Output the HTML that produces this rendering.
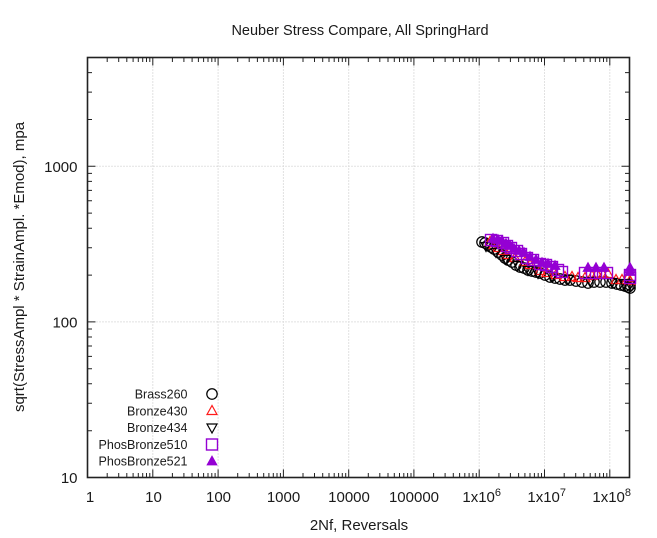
<!DOCTYPE html>
<html>
<head>
<meta charset="utf-8">
<style>
html,body{margin:0;padding:0;background:#fff;}
svg{display:block;}
text{font-family:"Liberation Sans",sans-serif;fill:#1a1a1a;}
</style>
</head>
<body>
<svg width="657" height="538" viewBox="0 0 657 538" xmlns="http://www.w3.org/2000/svg">
<defs>
  <circle id="c" cx="0" cy="0" r="5.2" fill="none" stroke="#000" stroke-width="1.25"/>
  <polygon id="tr" points="0,-5.5 -5,3.5 5,3.5" fill="none" stroke="#ff1a1a" stroke-width="1.2"/>
  <polygon id="td" points="0,5.5 -5,-3.5 5,-3.5" fill="none" stroke="#000" stroke-width="1.2"/>
  <rect id="sq" x="-5.5" y="-5.5" width="11" height="11" fill="none" stroke="#9400d3" stroke-width="1.4"/>
  <polygon id="tf" points="0,-5.5 -5,3.5 5,3.5" fill="#9400d3" stroke="#9400d3" stroke-width="0.8"/>
</defs>
<rect width="657" height="538" fill="#fff"/>

<!-- grid -->
<g stroke="#c4c4c4" stroke-width="1" stroke-dasharray="1,2" fill="none">
  <path d="M152.8,57.5V477.5M218.1,57.5V477.5M283.4,57.5V477.5M348.7,57.5V477.5M413.9,57.5V477.5M479.2,57.5V477.5M544.5,57.5V477.5M609.8,57.5V477.5"/>
  <path d="M87.5,321.9H629.5M87.5,166.3H629.5"/>
</g>

<!-- ticks -->
<g stroke="#222" stroke-width="1" fill="none">
  <path d="M152.8,477.5v-8M218.1,477.5v-8M283.4,477.5v-8M348.7,477.5v-8M413.9,477.5v-8M479.2,477.5v-8M544.5,477.5v-8M609.8,477.5v-8"/>
  <path d="M152.8,57.5v8M218.1,57.5v8M283.4,57.5v8M348.7,57.5v8M413.9,57.5v8M479.2,57.5v8M544.5,57.5v8M609.8,57.5v8"/>
  <path d="M107.2,477.5v-4.5M118.7,477.5v-4.5M126.8,477.5v-4.5M133.1,477.5v-4.5M138.3,477.5v-4.5M142.7,477.5v-4.5M146.5,477.5v-4.5M149.8,477.5v-4.5
  M172.4,477.5v-4.5M183.9,477.5v-4.5M192.1,477.5v-4.5M198.4,477.5v-4.5M203.6,477.5v-4.5M208.0,477.5v-4.5M211.8,477.5v-4.5M215.1,477.5v-4.5
  M237.7,477.5v-4.5M249.2,477.5v-4.5M257.4,477.5v-4.5M263.7,477.5v-4.5M268.9,477.5v-4.5M273.3,477.5v-4.5M277.0,477.5v-4.5M280.4,477.5v-4.5
  M303.0,477.5v-4.5M314.5,477.5v-4.5M322.7,477.5v-4.5M329.0,477.5v-4.5M334.2,477.5v-4.5M338.6,477.5v-4.5M342.3,477.5v-4.5M345.7,477.5v-4.5
  M368.3,477.5v-4.5M379.8,477.5v-4.5M388.0,477.5v-4.5M394.3,477.5v-4.5M399.5,477.5v-4.5M403.8,477.5v-4.5M407.6,477.5v-4.5M411.0,477.5v-4.5
  M433.6,477.5v-4.5M445.1,477.5v-4.5M453.3,477.5v-4.5M459.6,477.5v-4.5M464.8,477.5v-4.5M469.1,477.5v-4.5M472.9,477.5v-4.5M476.3,477.5v-4.5
  M498.9,477.5v-4.5M510.4,477.5v-4.5M518.6,477.5v-4.5M524.9,477.5v-4.5M530.0,477.5v-4.5M534.4,477.5v-4.5M538.2,477.5v-4.5M541.5,477.5v-4.5
  M564.2,477.5v-4.5M575.7,477.5v-4.5M583.8,477.5v-4.5M590.2,477.5v-4.5M595.3,477.5v-4.5M599.7,477.5v-4.5M603.5,477.5v-4.5M606.8,477.5v-4.5"/>
  <path d="M107.2,57.5v4.5M118.7,57.5v4.5M126.8,57.5v4.5M133.1,57.5v4.5M138.3,57.5v4.5M142.7,57.5v4.5M146.5,57.5v4.5M149.8,57.5v4.5
  M172.4,57.5v4.5M183.9,57.5v4.5M192.1,57.5v4.5M198.4,57.5v4.5M203.6,57.5v4.5M208.0,57.5v4.5M211.8,57.5v4.5M215.1,57.5v4.5
  M237.7,57.5v4.5M249.2,57.5v4.5M257.4,57.5v4.5M263.7,57.5v4.5M268.9,57.5v4.5M273.3,57.5v4.5M277.0,57.5v4.5M280.4,57.5v4.5
  M303.0,57.5v4.5M314.5,57.5v4.5M322.7,57.5v4.5M329.0,57.5v4.5M334.2,57.5v4.5M338.6,57.5v4.5M342.3,57.5v4.5M345.7,57.5v4.5
  M368.3,57.5v4.5M379.8,57.5v4.5M388.0,57.5v4.5M394.3,57.5v4.5M399.5,57.5v4.5M403.8,57.5v4.5M407.6,57.5v4.5M411.0,57.5v4.5
  M433.6,57.5v4.5M445.1,57.5v4.5M453.3,57.5v4.5M459.6,57.5v4.5M464.8,57.5v4.5M469.1,57.5v4.5M472.9,57.5v4.5M476.3,57.5v4.5
  M498.9,57.5v4.5M510.4,57.5v4.5M518.6,57.5v4.5M524.9,57.5v4.5M530.0,57.5v4.5M534.4,57.5v4.5M538.2,57.5v4.5M541.5,57.5v4.5
  M564.2,57.5v4.5M575.7,57.5v4.5M583.8,57.5v4.5M590.2,57.5v4.5M595.3,57.5v4.5M599.7,57.5v4.5M603.5,57.5v4.5M606.8,57.5v4.5"/>
  <path d="M87.5,321.9h8M87.5,166.3h8M629.5,321.9h-8M629.5,166.3h-8"/>
  <path d="M87.5,430.7h4.5M87.5,403.3h4.5M87.5,383.8h4.5M87.5,368.7h4.5M87.5,356.4h4.5M87.5,346.0h4.5M87.5,337.0h4.5M87.5,329.0h4.5
  M87.5,275.1h4.5M87.5,247.7h4.5M87.5,228.2h4.5M87.5,213.1h4.5M87.5,200.8h4.5M87.5,190.4h4.5M87.5,181.4h4.5M87.5,173.4h4.5
  M87.5,119.5h4.5M87.5,92.1h4.5M87.5,72.6h4.5"/>
  <path d="M629.5,430.7h-4.5M629.5,403.3h-4.5M629.5,383.8h-4.5M629.5,368.7h-4.5M629.5,356.4h-4.5M629.5,346.0h-4.5M629.5,337.0h-4.5M629.5,329.0h-4.5
  M629.5,275.1h-4.5M629.5,247.7h-4.5M629.5,228.2h-4.5M629.5,213.1h-4.5M629.5,200.8h-4.5M629.5,190.4h-4.5M629.5,181.4h-4.5M629.5,173.4h-4.5
  M629.5,119.5h-4.5M629.5,92.1h-4.5M629.5,72.6h-4.5"/>
</g>

<!-- border -->
<rect x="87.5" y="57.5" width="542" height="420" fill="none" stroke="#222" stroke-width="1.6"/>

<!-- tick labels -->
<g font-size="15" text-anchor="middle">
  <text x="90" y="502">1</text>
  <text x="153.5" y="502">10</text>
  <text x="218.5" y="502">100</text>
  <text x="283.5" y="502">1000</text>
  <text x="349" y="502">10000</text>
  <text x="414" y="502">100000</text>
  <text x="481.7" y="502">1x10<tspan font-size="11" dy="-6">6</tspan></text>
  <text x="546.7" y="502">1x10<tspan font-size="11" dy="-6">7</tspan></text>
  <text x="611.7" y="502">1x10<tspan font-size="11" dy="-6">8</tspan></text>
</g>
<g font-size="15" text-anchor="end">
  <text x="77.5" y="483">10</text>
  <text x="77.5" y="327.4">100</text>
  <text x="77.5" y="171.8">1000</text>
</g>

<!-- titles -->
<text x="360" y="35" font-size="14.5" text-anchor="middle">Neuber Stress Compare, All SpringHard</text>
<text x="359" y="530" font-size="15" text-anchor="middle">2Nf, Reversals</text>
<text transform="translate(24,267) rotate(-90)" font-size="15" text-anchor="middle">sqrt(StressAmpl * StrainAmpl. *Emod), mpa</text>

<!-- legend -->
<g font-size="12.5" text-anchor="end">
  <text x="187.5" y="398.5">Brass260</text>
  <text x="187.5" y="415.3">Bronze430</text>
  <text x="187.5" y="432.1">Bronze434</text>
  <text x="187.5" y="448.9">PhosBronze510</text>
  <text x="187.5" y="465.7">PhosBronze521</text>
</g>
<use href="#c" x="212" y="394"/>
<use href="#tr" x="212" y="411"/>
<use href="#td" x="212" y="427.5"/>
<use href="#sq" x="212" y="444.5"/>
<use href="#tf" x="212" y="461.5"/>

<!-- Brass260 circles -->
<g>
  <use href="#c" x="482" y="242"/><use href="#c" x="485" y="243"/><use href="#c" x="488" y="245"/>
  <use href="#c" x="491" y="247"/><use href="#c" x="494" y="249"/><use href="#c" x="498" y="252"/>
  <use href="#c" x="502" y="255"/><use href="#c" x="505" y="258"/><use href="#c" x="508" y="260"/>
  <use href="#c" x="512" y="262"/><use href="#c" x="516" y="265"/><use href="#c" x="520" y="267"/>
  <use href="#c" x="524" y="268"/><use href="#c" x="528" y="270"/><use href="#c" x="532" y="271"/>
  <use href="#c" x="536" y="272"/><use href="#c" x="540" y="273"/><use href="#c" x="545" y="275"/>
  <use href="#c" x="550" y="277"/><use href="#c" x="555" y="278"/><use href="#c" x="560" y="279"/>
  <use href="#c" x="565" y="280"/><use href="#c" x="570" y="280"/><use href="#c" x="576" y="281"/>
  <use href="#c" x="582" y="282"/><use href="#c" x="588" y="283"/><use href="#c" x="594" y="282"/>
  <use href="#c" x="600" y="282"/><use href="#c" x="606" y="282"/><use href="#c" x="612" y="283"/>
  <use href="#c" x="617" y="284"/><use href="#c" x="621" y="285"/><use href="#c" x="625" y="286"/>
  <use href="#c" x="628" y="287"/><use href="#c" x="630" y="285"/><use href="#c" x="630" y="288"/>
</g>
<!-- Bronze430 red triangles -->
<g>
  <use href="#tr" x="490" y="242"/><use href="#tr" x="494" y="245"/><use href="#tr" x="498" y="248"/>
  <use href="#tr" x="503" y="251"/><use href="#tr" x="507" y="255"/><use href="#tr" x="515" y="258"/>
  <use href="#tr" x="525" y="262"/><use href="#tr" x="530" y="265"/><use href="#tr" x="540" y="271"/>
  <use href="#tr" x="547" y="273"/><use href="#tr" x="556" y="275"/><use href="#tr" x="565" y="277"/>
  <use href="#tr" x="572" y="277"/><use href="#tr" x="578" y="278"/><use href="#tr" x="585" y="278"/>
  <use href="#tr" x="592" y="276"/><use href="#tr" x="597" y="274"/><use href="#tr" x="603" y="275"/>
  <use href="#tr" x="608" y="274"/><use href="#tr" x="616" y="280"/><use href="#tr" x="622" y="280"/>
  <use href="#tr" x="628" y="278"/><use href="#tr" x="630" y="281"/>
</g>
<!-- Bronze434 down triangles -->
<g>
  <use href="#td" x="486" y="246"/><use href="#td" x="496" y="252"/><use href="#td" x="506" y="259"/>
  <use href="#td" x="518" y="265"/><use href="#td" x="528" y="270"/><use href="#td" x="538" y="273"/>
  <use href="#td" x="552" y="276"/><use href="#td" x="568" y="279"/><use href="#td" x="590" y="281"/>
  <use href="#td" x="612" y="282"/><use href="#td" x="624" y="283"/><use href="#td" x="630" y="284"/>
</g>
<!-- PhosBronze510 squares -->
<g>
  <use href="#sq" x="491" y="240"/><use href="#sq" x="497" y="241"/><use href="#sq" x="503" y="243"/>
  <use href="#sq" x="507" y="246"/><use href="#sq" x="511" y="248"/><use href="#sq" x="517" y="251"/>
  <use href="#sq" x="521" y="254"/><use href="#sq" x="527" y="258"/><use href="#sq" x="533" y="260"/>
  <use href="#sq" x="540" y="264"/><use href="#sq" x="546" y="265"/><use href="#sq" x="552" y="267"/>
  <use href="#sq" x="558" y="270"/><use href="#sq" x="562" y="272"/><use href="#sq" x="585" y="273"/>
  <use href="#sq" x="592" y="273"/><use href="#sq" x="600" y="273"/><use href="#sq" x="607" y="273"/>
  <use href="#sq" x="630" y="275"/><use href="#sq" x="630" y="278"/>
</g>
<!-- PhosBronze521 filled triangles -->
<g>
  <use href="#tf" x="493" y="239"/><use href="#tf" x="498" y="240"/><use href="#tf" x="502" y="241"/>
  <use href="#tf" x="506" y="244"/><use href="#tf" x="510" y="246"/><use href="#tf" x="514" y="249"/>
  <use href="#tf" x="519" y="251"/><use href="#tf" x="524" y="253"/><use href="#tf" x="530" y="257"/>
  <use href="#tf" x="536" y="260"/><use href="#tf" x="542" y="263"/><use href="#tf" x="548" y="264"/>
  <use href="#tf" x="555" y="266"/><use href="#tf" x="588" y="268"/><use href="#tf" x="596" y="268"/>
  <use href="#tf" x="604" y="268"/><use href="#tf" x="630" y="268"/><use href="#tf" x="630" y="272"/>
</g>
</svg>
</body>
</html>
